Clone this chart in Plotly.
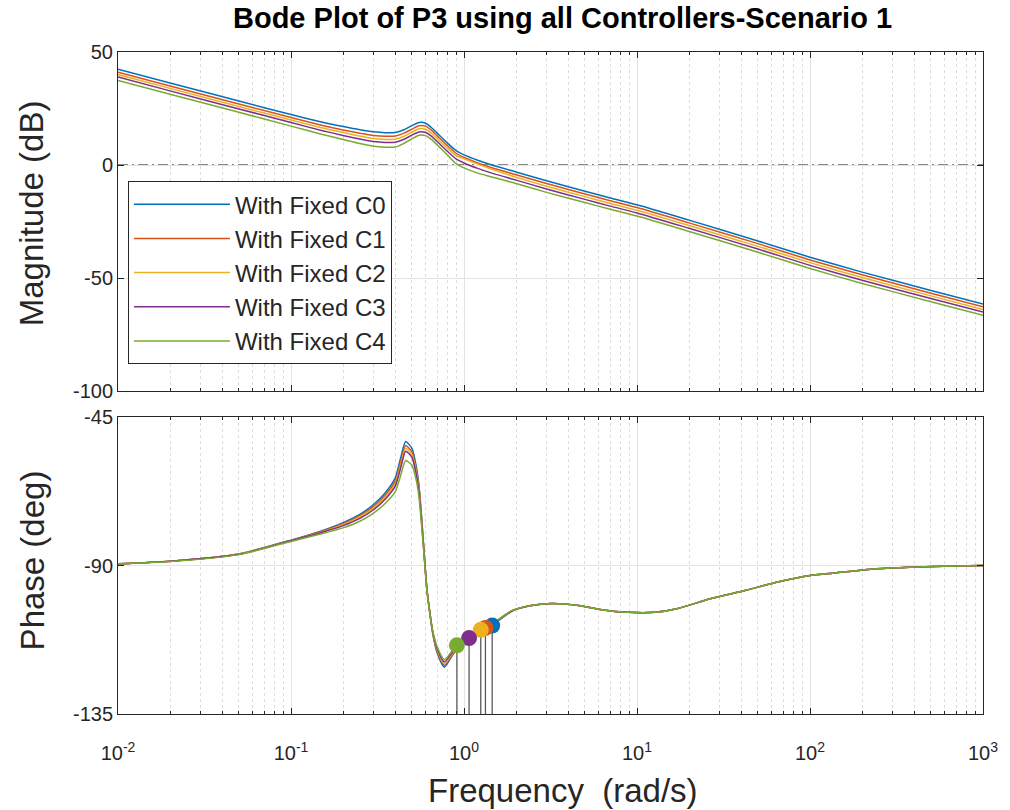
import plotly.graph_objects as go

# ---------------- data ----------------
names = ["With Fixed C0", "With Fixed C1", "With Fixed C2", "With Fixed C3", "With Fixed C4"]
colors = ["#0072BD", "#D95319", "#EDB120", "#7E2F8E", "#77AC30"]

mag_freq = [0.01, 0.02, 0.05, 0.1, 0.15, 0.2, 0.25, 0.3, 0.35, 0.4, 0.45, 0.5, 0.55, 0.6,
            0.65, 0.7, 0.8, 0.9, 1.0, 1.2, 1.45, 2, 3, 5, 7, 10, 20, 50, 100, 200, 500, 1000]

mag_c0 = [42.4, 36.3, 28.3, 22.3, 19.0, 17.0, 15.6, 14.7, 14.3, 14.4, 15.6, 17.4, 18.8, 18.5,
          16.5, 14.1, 9.8, 6.4, 4.5, 2.1, 0.0, -3.1, -7.0, -11.6, -14.6, -17.6, -24.4, -33.6,
          -40.8, -47.4, -55.5, -61.5]
mag_c1 = [41.1, 35.0, 27.0, 21.0, 17.6, 15.5, 14.1, 13.1, 12.7, 12.8, 14.1, 15.9, 17.4, 17.2,
          15.3, 12.9, 8.6, 5.2, 3.3, 0.9, -1.2, -4.3, -8.2, -12.8, -15.8, -18.8, -25.6, -34.8,
          -42.0, -48.6, -56.7, -62.7]
mag_c2 = [40.0, 33.9, 25.9, 19.9, 16.5, 14.4, 12.8, 11.7, 11.3, 11.4, 12.7, 14.5, 16.0, 15.8,
          14.0, 11.7, 7.5, 4.2, 2.8, 0.4, -1.9, -5.4, -9.4, -14.0, -17.0, -20.0, -26.8, -36.0,
          -43.2, -49.8, -57.9, -63.9]
mag_c3 = [38.9, 32.8, 24.8, 18.8, 15.3, 13.1, 11.5, 10.4, 10.0, 10.1, 11.4, 13.2, 14.6, 14.4,
          12.7, 10.4, 6.1, 2.7, 0.9, -1.5, -3.6, -6.7, -10.6, -15.2, -18.2, -21.2, -28.0, -37.2,
          -44.4, -51.0, -59.1, -65.1]
mag_c4 = [37.4, 31.3, 23.3, 17.2, 13.6, 11.3, 9.5, 8.3, 7.9, 8.0, 9.6, 11.6, 13.2, 13.0,
          11.2, 8.9, 4.5, 0.6, -1.3, -3.6, -5.3, -8.2, -12.1, -16.6, -19.6, -22.6, -29.4, -38.6,
          -45.8, -52.4, -60.5, -66.5]

phase_freq = [0.01, 0.02, 0.05, 0.1, 0.15, 0.2, 0.25, 0.3, 0.35, 0.4, 0.43, 0.46, 0.5, 0.53,
              0.55, 0.57, 0.59, 0.61, 0.63, 0.66, 0.70, 0.77, 0.85, 0.91, 1.0, 1.07, 1.25, 1.45,
              1.9, 2.4, 3.2, 4.6, 6.25, 8.8, 12.7, 17, 26.5, 42, 65, 100, 156, 242, 376, 1000]

ph_c0 = [-89.5, -88.7, -86.5, -82.3, -79.5, -77.0, -74.5, -71.5, -68.0, -63.5, -57.5, -52.4,
         -54.5, -60.0, -66.0, -76.0, -87.0, -97.0, -103.0, -110.7, -116.5, -120.8, -117.5,
         -115.3, -113.5, -112.3, -109.7, -108.2, -103.8, -102.2, -101.5, -102.1, -103.4,
         -104.2, -104.2, -103.1, -100.1, -97.6, -95.0, -93.0, -92.0, -91.0, -90.5, -90.0]
ph_c1 = [-89.5, -88.7, -86.5, -82.4, -79.7, -77.3, -74.9, -72.1, -68.7, -64.5, -58.7, -53.6,
         -55.6, -61.0, -66.8, -76.5, -87.2, -97.0, -103.0, -110.5, -116.0, -120.2, -117.2,
         -115.0, -113.2, -112.1, -109.6, -108.0, -103.7, -102.2, -101.5, -102.1, -103.4,
         -104.2, -104.2, -103.1, -100.1, -97.6, -95.0, -93.0, -92.0, -91.0, -90.5, -90.0]
ph_c2 = [-89.5, -88.7, -86.5, -82.5, -79.9, -77.6, -75.3, -72.6, -69.3, -65.3, -59.6, -54.5,
         -56.4, -61.7, -67.4, -77.0, -87.4, -97.1, -103.1, -110.3, -115.6, -119.7, -116.8,
         -114.7, -112.9, -111.9, -109.5, -107.9, -103.7, -102.2, -101.5, -102.1, -103.4,
         -104.2, -104.2, -103.1, -100.1, -97.6, -95.0, -93.0, -92.0, -91.0, -90.5, -90.0]
ph_c3 = [-89.5, -88.7, -86.6, -82.5, -80.0, -77.9, -75.7, -73.1, -69.9, -66.0, -60.5, -55.4,
         -57.2, -62.4, -68.0, -77.5, -87.6, -97.2, -103.2, -110.1, -115.2, -119.2, -116.5,
         -114.4, -112.6, -111.7, -109.4, -107.8, -103.7, -102.2, -101.5, -102.1, -103.4,
         -104.2, -104.2, -103.1, -100.1, -97.6, -95.0, -93.0, -92.0, -91.0, -90.5, -90.0]
ph_c4 = [-89.5, -88.8, -86.7, -82.7, -80.4, -78.6, -76.6, -74.1, -71.2, -67.7, -62.8, -58.2,
         -59.6, -64.2, -69.5, -78.5, -88.0, -97.4, -103.3, -109.8, -114.6, -118.5, -116.0,
         -114.2, -112.3, -111.4, -109.2, -107.6, -103.6, -102.2, -101.5, -102.1, -103.4,
         -104.2, -104.2, -103.1, -100.1, -97.6, -95.0, -93.0, -92.0, -91.0, -90.5, -90.0]

# gain crossover frequency and phase at crossover, per controller
wc = [1.455, 1.33, 1.25, 1.07, 0.91]
pm_phase = [-108.2, -108.9, -109.5, -112.0, -114.2]

x_tick_vals = [0.01, 0.1, 1, 10, 100, 1000]
x_tick_text = ["10<sup>-2</sup>", "10<sup>-1</sup>", "10<sup>0</sup>",
               "10<sup>1</sup>", "10<sup>2</sup>", "10<sup>3</sup>"]
mag_ticks = [-100, -50, 0, 50]
phase_ticks = [-135, -90, -45]

# ---------------- figure ----------------
mags = [mag_c0, mag_c1, mag_c2, mag_c3, mag_c4]
phs = [ph_c0, ph_c1, ph_c2, ph_c3, ph_c4]

fig = go.Figure()
for i in range(5):
    fig.add_trace(go.Scatter(x=mag_freq, y=mags[i], mode="lines", name=names[i],
                             line=dict(color=colors[i], width=1.5, shape="spline", smoothing=0.6),
                             xaxis="x", yaxis="y", legendgroup=names[i]))
for i in range(5):
    fig.add_trace(go.Scatter(x=phase_freq, y=phs[i], mode="lines", showlegend=False,
                             line=dict(color=colors[i], width=1.5, shape="spline", smoothing=0.6),
                             xaxis="x2", yaxis="y2"))

# vertical stems from the crossover markers to the bottom of the phase axes
stem_x, stem_y = [], []
for w, p in zip(wc, pm_phase):
    stem_x += [w, w, None]
    stem_y += [p, phase_ticks[0], None]
fig.add_trace(go.Scatter(x=stem_x, y=stem_y, mode="lines", showlegend=False,
                         line=dict(color="#5a5a5a", width=1.3), xaxis="x2", yaxis="y2"))
for i in range(5):
    fig.add_trace(go.Scatter(x=[wc[i]], y=[pm_phase[i]], mode="markers", showlegend=False,
                             marker=dict(color=colors[i], size=16, line=dict(width=0)),
                             xaxis="x2", yaxis="y2"))

minor_vals = [m * 10.0 ** e for e in range(-2, 3) for m in range(2, 10)]
font_family = "Liberation Sans, Arial, sans-serif"
axis_color = "#262626"

common_x = dict(type="log", range=[-2, 3], tickmode="array", tickvals=x_tick_vals,
                ticks="inside", ticklen=6, tickcolor=axis_color, mirror="ticks",
                showline=True, linecolor=axis_color, linewidth=1,
                showgrid=True, gridcolor="#e3e3e3", gridwidth=1, zeroline=False,
                minor=dict(tickmode="array", tickvals=minor_vals, ticks="inside",
                           ticklen=3, tickcolor=axis_color, showgrid=True,
                           gridcolor="#dcdcdc", griddash="dot", gridwidth=1))
common_y = dict(ticks="inside", ticklen=6, tickcolor=axis_color, mirror="ticks",
                showline=True, linecolor=axis_color, linewidth=1,
                showgrid=True, gridcolor="#e3e3e3", gridwidth=1, zeroline=False,
                tickfont=dict(size=20, color=axis_color))

fig.update_layout(
    width=1010, height=810,
    margin=dict(l=118, r=23, t=52, b=96),
    paper_bgcolor="white", plot_bgcolor="white",
    font=dict(family=font_family, color=axis_color),
    xaxis=dict(common_x, domain=[0, 1], anchor="y", showticklabels=False),
    xaxis2=dict(common_x, domain=[0, 1], anchor="y2", ticktext=x_tick_text,
                tickfont=dict(size=20, color=axis_color), ticklabelstandoff=21),
    yaxis=dict(common_y, domain=[0.4879, 1], anchor="x", range=[-100, 50],
               tickmode="array", tickvals=mag_ticks, ticktext=[str(v) for v in mag_ticks]),
    yaxis2=dict(common_y, domain=[0, 0.4486], anchor="x2", range=[-135, -45],
                tickmode="array", tickvals=phase_ticks, ticktext=[str(v) for v in phase_ticks]),
    legend=dict(x=0.0115, y=0.805, xanchor="left", yanchor="top",
                bgcolor="white", bordercolor=axis_color, borderwidth=1,
                font=dict(size=24, color=axis_color), tracegroupgap=0, itemwidth=96),
    showlegend=True,
    shapes=[dict(type="line", xref="x domain", x0=0, x1=1, yref="y", y0=0, y1=0,
                 line=dict(color="#606060", width=1.3, dash="10px,4px,2px,4px"), layer="below")],
    annotations=[
        dict(text="<b>Bode Plot of P3 using all Controllers-Scenario 1</b>", xref="paper",
             yref="paper", x=0.5144, y=1.0514, xanchor="center", yanchor="middle",
             showarrow=False, font=dict(size=29, color="black")),
        dict(text="Magnitude (dB)", xref="paper", yref="paper", x=-0.099, y=0.757,
             xanchor="center", yanchor="middle",
             textangle=-90, showarrow=False, font=dict(size=33, color=axis_color)),
        dict(text="Phase (deg)", xref="paper", yref="paper", x=-0.099, y=0.2326,
             xanchor="center", yanchor="middle",
             textangle=-90, showarrow=False, font=dict(size=33, color=axis_color)),
        dict(text="Frequency\u00a0 (rad/s)", xref="paper", yref="paper", x=0.5144, y=-0.115,
             xanchor="center", yanchor="middle", showarrow=False,
             font=dict(size=33, color=axis_color)),
    ],
)

fig.write_html("out.html")
